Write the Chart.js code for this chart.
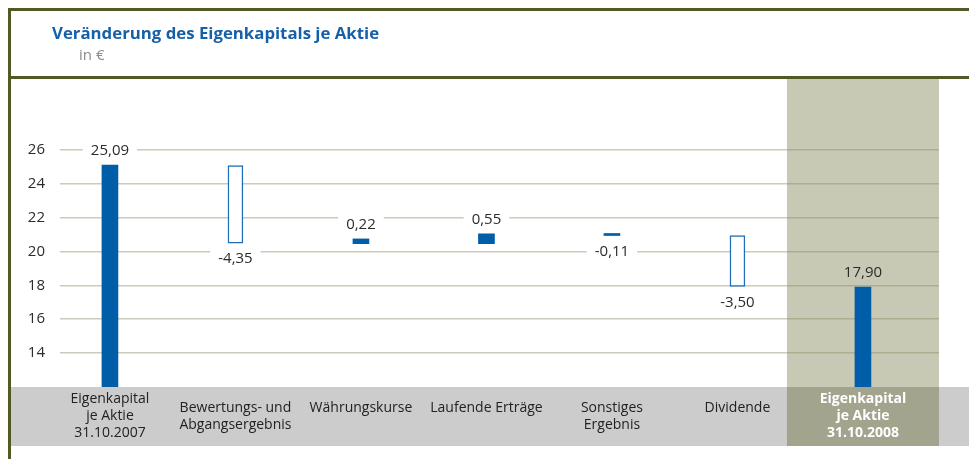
<!DOCTYPE html>
<html>
<head>
<meta charset="utf-8">
<script src="https://cdn.jsdelivr.net/npm/chart.js@4.4.1/dist/chart.umd.min.js"></script>
<style>
  html, body { margin: 0; padding: 0; background: #fff; }
  #wrap { position: relative; width: 969px; height: 459px; overflow: hidden; font-family: 'Open Sans', sans-serif; }
  #chart { position: absolute; left: 0; top: 0; }
  .frame { position: absolute; background: #4f5a24; }
  #title { position: absolute; left: 52px; top: 21px; font-weight: bold; font-size: 16.8px; color: #1560a8; white-space: nowrap; }
  #unit { position: absolute; left: 79px; top: 44px; font-size: 15px; color: #8c8c8c; }
</style>
</head>
<body>
<div id="wrap">
  <canvas id="chart" width="969" height="459"></canvas>
  <div class="frame" style="left:8px;top:8px;width:961px;height:3px"></div>
  <div class="frame" style="left:8px;top:76px;width:961px;height:3px"></div>
  <div class="frame" style="left:8px;top:8px;width:3px;height:451px"></div>
  <div id="title">Veränderung des Eigenkapitals je Aktie</div>
  <div id="unit">in €</div>
</div>
<script>
// chart data
const categories = [
  ['Eigenkapital', 'je Aktie', '31.10.2007'],
  ['Bewertungs- und', 'Abgangsergebnis'],
  ['Währungskurse'],
  ['Laufende Erträge'],
  ['Sonstiges', 'Ergebnis'],
  ['Dividende'],
  ['Eigenkapital', 'je Aktie', '31.10.2008'],
];
const changes = [25.09, -4.35, 0.22, 0.55, -0.11, -3.50, 17.90];
const valueLabels = ['25,09', '-4,35', '0,22', '0,55', '-0,11', '-3,50', '17,90'];
// floating bar ends as drawn in the picture
const barLow = [0, 20.49, 20.46, 20.46, 20.94, 17.93, 0];
const barHigh = [25.09, 25.07, 20.74, 21.04, 21.06, 20.93, 17.90];
const hollow = [false, true, false, false, false, true, false];
const yTicks = [14, 16, 18, 20, 22, 24, 26];

const BLUE = '#005da8';
const BAND = '#c8c9b4';

const filledData = [], hollowData = [];
changes.forEach((v, i) => {
  const pt = { x: i, y: [barLow[i], barHigh[i]] };
  if (hollow[i]) hollowData.push(pt); else filledData.push(pt);
});

const bandsPlugin = {
  id: 'bands',
  beforeDraw(chart) {
    const { ctx, chartArea, scales } = chart;
    const last = categories.length - 1;
    const cx = scales.x.getPixelForValue(last);
    ctx.save();
    ctx.fillStyle = BAND;
    ctx.fillRect(cx - 76, 79, 152, chartArea.bottom - 79);
    ctx.fillStyle = '#cccccc';
    ctx.fillRect(11, chartArea.bottom, chart.width - 11, 59);
    ctx.fillStyle = '#a3a48e';
    ctx.fillRect(cx - 76, chartArea.bottom, 152, 59);
    ctx.restore();
  },
};

const labelsPlugin = {
  id: 'labels',
  afterDatasetsDraw(chart) {
    const { ctx, scales } = chart;
    ctx.save();
    ctx.font = '15px "Open Sans"';
    ctx.textAlign = 'center';
    ctx.textBaseline = 'middle';
    changes.forEach((v, i) => {
      const x = scales.x.getPixelForValue(i);
      const y = v >= 0 ? scales.y.getPixelForValue(barHigh[i]) - 15.5 : scales.y.getPixelForValue(barLow[i]) + 15;
      const w = ctx.measureText(valueLabels[i]).width + 16;
      ctx.fillStyle = i === categories.length - 1 ? BAND : '#fff';
      ctx.fillRect(x - w / 2, y - 8, w, 16);
      ctx.fillStyle = '#2b2b2b';
      ctx.fillText(valueLabels[i], x, y + 1);
    });
    ctx.restore();
  },
  afterDraw(chart) {
    const { ctx, chartArea, scales } = chart;
    ctx.save();
    ctx.textAlign = 'center';
    ctx.textBaseline = 'middle';
    categories.forEach((lines, i) => {
      const x = scales.x.getPixelForValue(i);
      const last = i === categories.length - 1;
      ctx.font = (last ? 'bold ' : '') + '14px "Open Sans"';
      ctx.fillStyle = last ? '#ffffff' : '#222222';
      const y0 = chartArea.bottom + (lines.length === 3 ? 12 : 21);
      lines.forEach((t, k) => ctx.fillText(t, x, y0 + k * 16.8));
    });
    ctx.restore();
  },
};

new Chart(document.getElementById('chart'), {
  type: 'bar',
  data: {
    datasets: [
      { data: filledData, backgroundColor: BLUE, borderWidth: 0, barThickness: 16 },
      { data: hollowData, backgroundColor: '#ffffff', borderColor: '#1f6fb8', borderWidth: 1.5, borderSkipped: false, barThickness: 15 },
    ],
  },
  options: {
    responsive: false,
    animation: false,
    devicePixelRatio: 1,
    layout: { padding: { left: 10, right: 30, top: 82, bottom: 72 } },
    plugins: { legend: { display: false }, tooltip: { enabled: false } },
    datasets: { bar: { grouped: false } },
    scales: {
      x: { type: 'linear', offset: false, min: -0.398, max: 6.606, display: false },
      y: {
        min: 12,
        max: 30,
        afterBuildTicks: (s) => { s.ticks = yTicks.map((v) => ({ value: v })); },
        afterFit: (s) => { s.width = 50; },
        border: { display: false },
        grid: { color: 'rgba(140,140,100,0.45)', lineWidth: 1.5, drawTicks: false },
        ticks: { padding: 15, color: '#2b2b2b', font: { family: 'Open Sans', size: 15 } },
      },
    },
  },
  plugins: [bandsPlugin, labelsPlugin],
});
</script>
</body>
</html>
